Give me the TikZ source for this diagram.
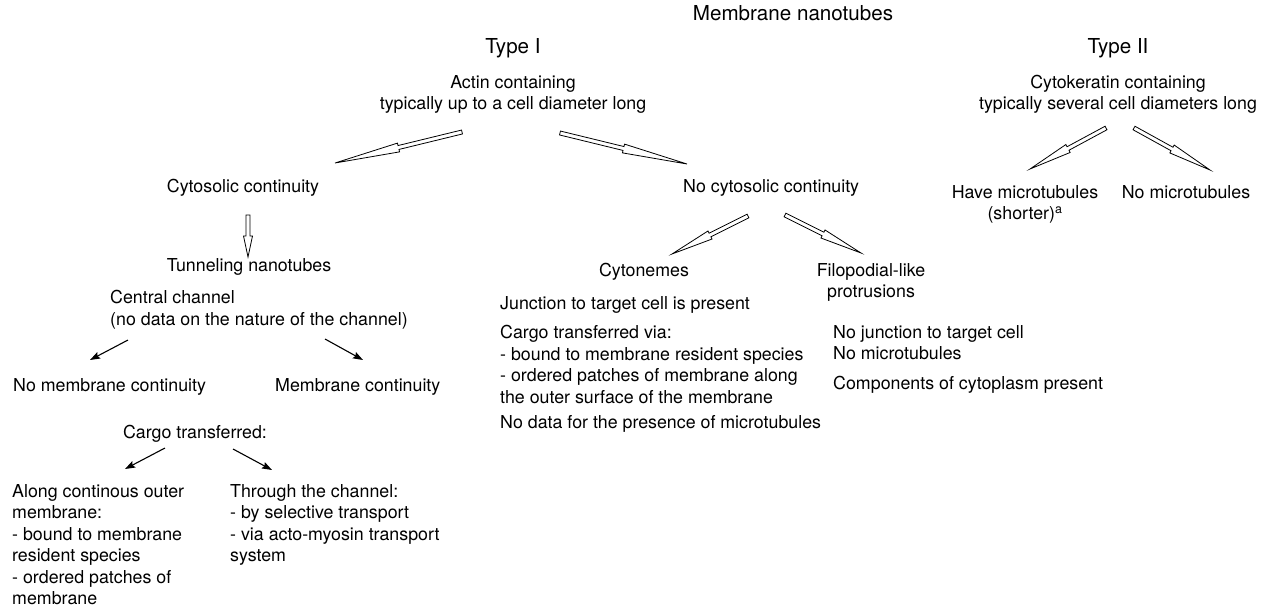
\documentclass[tikz,border=0pt]{standalone}
\usepackage{fontspec}
\setmainfont{TeX Gyre Heros}
\usepackage{tikz}
\usetikzlibrary{arrows.meta,calc}

\newcommand{\bodyfont}{\fontsize{17.8}{21.5}\selectfont}
\newcommand{\headfont}{\fontsize{20.6}{24}\selectfont}
% hollow arrow: thin shaft, long narrow open head
\newcommand{\hollowarrow}[2]{%
  \draw[line width=0.8pt, line join=miter]
    let \p1=#1, \p2=#2, \n1={atan2(\y2-\y1,\x2-\x1)}, \p3=($(\p1)!0.5!(\p2)$) in
    ($(\p1)+({\n1+90}:2pt)$) -- ($(\p3)+({\n1+90}:2pt)$) -- ($(\p3)+({\n1+90}:4.5pt)$) -- (\p2)
    -- ($(\p3)+({\n1-90}:4.5pt)$) -- ($(\p3)+({\n1-90}:2pt)$) -- ($(\p1)+({\n1-90}:2pt)$) -- cycle;}

\begin{document}
\begin{tikzpicture}[x=1pt, y=-1pt,
txt/.style={inner sep=0pt, font=\bodyfont},
head/.style={inner sep=0pt, font=\headfont},
block/.style={txt, align=left, anchor=north west},
thinarrow/.style={line width=1.1pt, -{Stealth[length=10pt, width=7pt, inset=1.5pt]}}
]
\useasboundingbox (0,0) rectangle (1263,610);
%Nodes
\node[head, anchor=base]   (title)     at (793,21)   {Membrane nanotubes};
\node[head, anchor=base]   (type1)     at (513,53)   {Type I};
\node[head, anchor=base]   (type2)     at (1118,53)  {Type II};
\node[txt, align=center, anchor=north] (actin) at (513,75)  {Actin containing\\typically up to a cell diameter long};
\node[txt, align=center, anchor=north] (cytok) at (1118,75) {Cytokeratin containing\\typically several cell diameters long};
\node[txt, anchor=base]        (cytosolic) at (243,192)  {Cytosolic continuity};
\node[txt, anchor=base west]   (nocyto)    at (683,192)  {No cytosolic continuity};
\node[txt, align=center, anchor=north] (have) at (1025,185) {Have microtubules\\(shorter)\textsuperscript{a}};
\node[txt, anchor=base]        (nomt)      at (1186,198) {No microtubules};
\node[txt, anchor=base]        (tunnel)    at (249,271)  {Tunneling nanotubes};
\node[block]                   (central)   at (110,290)  {Central channel\\(no data on the nature of the channel)};
\node[txt, anchor=base west]   (nomem)     at (13,391)   {No membrane continuity};
\node[txt, anchor=base west]   (mem)       at (275,391)  {Membrane continuity};
\node[txt, anchor=base]        (cargo)     at (195,438)  {Cargo transferred:};
\node[block]                   (along)     at (12,484)   {Along continous outer\\membrane:\\- bound to membrane\\resident species\\- ordered patches of\\membrane};
\node[block]                   (through)   at (230,484)  {Through the channel:\\- by selective transport\\- via acto-myosin transport\\system};
\node[txt, anchor=base]        (cytonemes) at (644,276)  {Cytonemes};
\node[txt, anchor=base west]   (junction)  at (500,309)  {Junction to target cell is present};
\node[block]                   (cargovia)  at (500,325)  {Cargo transferred via:\\- bound to membrane resident species\\- ordered patches of membrane along\\the outer surface of the membrane};
\node[txt, anchor=base west]   (nodata)    at (500,428)  {No data for the presence of microtubules};
\node[txt, align=center, anchor=north] (filo) at (871,263) {Filopodial-like\\protrusions};
\node[block]                   (nojunc)    at (833,325)  {No junction to target cell\\No microtubules};
\node[txt, anchor=base west]   (compo)     at (833,389)  {Components of cytoplasm present};
%Hollow arrows
\hollowarrow{([shift={(-51,57)}]actin.north)}{([shift={(92,-29)}]cytosolic.base)}
\hollowarrow{([shift={(47,58)}]actin.north)}{([shift={(4,-28)}]nocyto.base west)}
\hollowarrow{([shift={(5,23)}]cytosolic.base)}{([shift={(-1,-14)}]tunnel.base)}
\hollowarrow{([shift={(65,24)}]nocyto.base west)}{([shift={(28,-22)}]cytonemes.base)}
\hollowarrow{([shift={(102,23)}]nocyto.base west)}{([shift={(-10,-10)}]filo.north)}
\hollowarrow{([shift={(-12,53)}]cytok.north)}{([shift={(5,-16)}]have.north)}
\hollowarrow{([shift={(16,53)}]cytok.north)}{([shift={(24,-28)}]nomt.base)}
%Lines
\draw[thinarrow] ([shift={(18,50)}]central.north west) -- ([shift={(77,-31)}]nomem.base west);
\draw[thinarrow] ([shift={(215,49)}]central.north west) -- ([shift={(88,-31)}]mem.base west);
\draw[thinarrow] ([shift={(-30,10)}]cargo.base) -- ([shift={(113,-15)}]along.north west);
\draw[thinarrow] ([shift={(38,11)}]cargo.base) -- ([shift={(42,-14)}]through.north west);
\end{tikzpicture}
\end{document}
